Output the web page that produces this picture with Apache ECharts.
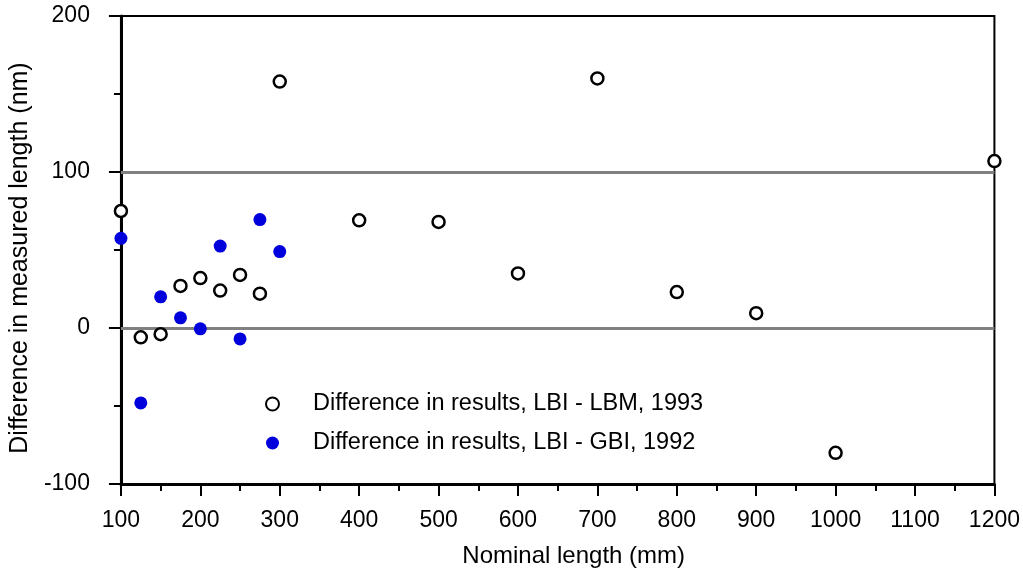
<!DOCTYPE html>
<html>
<head>
<meta charset="utf-8">
<script src="https://cdn.jsdelivr.net/npm/echarts@6/dist/echarts.min.js"></script>
<style>html,body{margin:0;padding:0;background:#fff;}#c{width:1023px;height:574px;}</style>
</head>
<body>
<div id="c"></div>
<script>
var lbmX = [100, 125, 150, 175, 200, 225, 250, 275, 300, 400, 500, 600, 700, 800, 900, 1000, 1200];
var lbmY = [75, -6, -4, 27, 32, 24, 34, 22, 158, 69, 68, 35, 160, 23, 9.5, -80, 107];
var gbiX = [100, 125, 150, 175, 200, 225, 250, 275, 300];
var gbiY = [57.5, -48, 20, 6.5, -0.5, 52.5, -7, 69.5, 49];
var refLines = [0, 100];
var seriesNames = ['Difference in results, LBI - LBM, 1993', 'Difference in results, LBI - GBI, 1992'];

function pairs(xs, ys) { return xs.map(function (x, i) { return [x, ys[i]]; }); }

var font = '"Liberation Sans", Arial, sans-serif';
var chart = echarts.init(document.getElementById('c'));
chart.setOption({
  animation: false,
  backgroundColor: '#fff',
  grid: { left: 120, right: 24, top: 16, bottom: 90, show: true, borderColor: '#000', borderWidth: 2, backgroundColor: 'transparent' },
  legend: {
    orient: 'vertical', left: 265, top: 392, padding: 0, itemGap: 15,
    itemWidth: 13, itemHeight: 13,
    textStyle: { fontFamily: font, fontSize: 23.5, color: '#000', padding: [0, 0, 0, 29] },
    data: [{ name: seriesNames[0], icon: 'circle' }, { name: seriesNames[1], icon: 'circle' }]
  },
  xAxis: {
    type: 'value', min: 100, max: 1200, interval: 100,
    name: 'Nominal length (mm)', nameLocation: 'middle', nameGap: 60,
    nameTextStyle: { fontFamily: font, fontSize: 24, color: '#000', padding: [0, 0, 0, 32] },
    axisLine: { show: true, onZero: false, lineStyle: { color: '#000', width: 3 } },
    axisTick: { show: true, inside: false, length: 12, lineStyle: { color: '#000', width: 2 } },
    minorTick: { show: true, splitNumber: 2, length: 7, lineStyle: { color: '#000', width: 2 } },
    axisLabel: { fontFamily: font, fontSize: 23, color: '#000', margin: 25, formatter: function (v) { return String(v); } },
    splitLine: { show: false }
  },
  yAxis: {
    type: 'value', min: -100, max: 200, interval: 100,
    name: 'Difference in measured length (nm)', nameLocation: 'middle', nameGap: 85,
    nameTextStyle: { fontFamily: font, fontSize: 25, color: '#000', padding: [0, 16, 0, 0] },
    axisLine: { show: true, onZero: false, lineStyle: { color: '#000', width: 3 } },
    axisTick: { show: true, inside: false, length: 12, lineStyle: { color: '#000', width: 2 } },
    minorTick: { show: true, splitNumber: 2, length: 7, lineStyle: { color: '#000', width: 2 } },
    axisLabel: { fontFamily: font, fontSize: 23, color: '#000', margin: 31, formatter: function (v) { return String(v); } },
    splitLine: { show: false }
  },
  series: [
    {
      name: seriesNames[0], type: 'scatter', clip: false, z: 3,
      symbol: 'circle', symbolSize: 12,
      itemStyle: { color: '#fff', borderColor: '#000', borderWidth: 2.5, opacity: 1 },
      data: pairs(lbmX, lbmY),
      markLine: {
        silent: true, symbol: 'none', animation: false, z: 1,
        label: { show: false },
        lineStyle: { color: '#808080', width: 3, type: 'solid' },
        data: refLines.map(function (v) { return { yAxis: v }; })
      }
    },
    {
      name: seriesNames[1], type: 'scatter', clip: false, z: 4,
      symbol: 'circle', symbolSize: 13,
      itemStyle: { color: '#0000DD', opacity: 1 },
      data: pairs(gbiX, gbiY)
    }
  ]
});
</script>
</body>
</html>
